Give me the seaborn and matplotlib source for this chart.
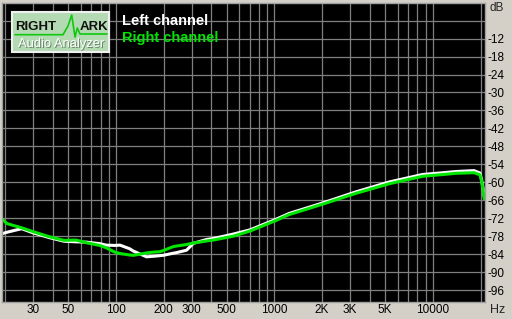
import numpy as np
import pandas as pd
import matplotlib
matplotlib.use("Agg")
import matplotlib.pyplot as plt
from matplotlib.ticker import FixedLocator, NullFormatter
from matplotlib.patches import Rectangle
import matplotlib.patheffects as pe
import seaborn as sns

# ---- data ----
freq = [19.1, 20.5, 25.4, 30, 38, 47, 56, 65, 79, 87, 98, 106, 122, 129, 156,
        175, 190, 199, 230, 241, 279, 308, 374, 412, 551, 701, 1020, 1240, 2020,
        3270, 5300, 8600, 12200, 14000, 18200, 19800, 20300, 20800, 21100]
left_db = [-77.2, -76.7, -75.5, -76.9, -78.5, -79.7, -79.9, -80.0, -80.5, -81.0,
           -81.1, -81.0, -82.2, -83.0, -84.9, -84.7, -84.5, -84.4, -83.7, -83.5,
           -82.7, -80.4, -79.1, -78.8, -77.3, -75.9, -72.4, -70.4, -66.9, -63.2,
           -59.9, -57.4, -56.7, -56.4, -56.1, -56.9, -59.1, -62.4, -64.7]
right_db = [-72.2, -73.8, -75.2, -76.5, -78.2, -79.4, -79.3, -80.2, -81.1, -81.9,
            -83.3, -83.8, -84.3, -84.4, -83.6, -83.3, -83.2, -82.8, -81.5, -81.3,
            -80.8, -80.3, -79.6, -79.3, -78.0, -76.3, -72.8, -70.8, -67.3, -63.7,
            -60.5, -58.0, -57.3, -57.0, -56.8, -57.5, -59.5, -63.0, -65.5]
series_names = ["Left channel", "Right channel"]
x_tick_values = [30, 50, 100, 200, 300, 500, 1000, 2000, 3000, 5000, 10000]
x_tick_labels = ["30", "50", "100", "200", "300", "500", "1000", "2K", "3K", "5K", "10000"]
y_tick_values = [-12, -18, -24, -30, -36, -42, -48, -54, -60, -66, -72, -78, -84, -90, -96]
y_tick_labels = [str(v) for v in y_tick_values]

df = pd.concat([
    pd.DataFrame({"freq": freq, "db": left_db, "channel": series_names[0]}),
    pd.DataFrame({"freq": freq, "db": right_db, "channel": series_names[1]}),
])

BG = "#d4d0c8"
GRID = "#808080"
WHITE = "#ffffff"
GREEN = "#00e600"
FONT = ["Liberation Sans", "DejaVu Sans"]

sns.set_style("dark")
plt.rcParams["font.family"] = FONT

W, H = 512, 319
fig = plt.figure(figsize=(W / 100, H / 100), dpi=100, facecolor=BG)
ax = fig.add_axes([2 / W, 1 - 302 / H, 483 / W, 299.3 / H])
ax.set_facecolor("black")

sns.lineplot(data=df, x="freq", y="db", hue="channel",
             palette={series_names[0]: WHITE, series_names[1]: GREEN},
             linewidth=2.2, ax=ax, legend=False, sort=False, estimator=None)

ax.set_xscale("log")
ax.set_xlim(19.1, 21340)
ax.set_ylim(-100, 0)

# grid
minor_x = [v * d for d in (10, 100, 1000) for v in range(2, 10)] + [20000]
ax.xaxis.set_major_locator(FixedLocator(x_tick_values))
ax.set_xticklabels(x_tick_labels)
ax.xaxis.set_minor_locator(FixedLocator(minor_x))
ax.xaxis.set_minor_formatter(NullFormatter())
ax.yaxis.set_major_locator(FixedLocator(y_tick_values))
ax.set_yticklabels(y_tick_labels)
ax.yaxis.set_minor_locator(FixedLocator([-6]))
ax.grid(True, which="both", color=GRID, linewidth=0.9)
ax.set_axisbelow(True)

ax.yaxis.tick_right()
ax.tick_params(axis="both", which="both", length=0, labelsize=8.5, colors="black")
ax.tick_params(axis="y", pad=2)
ax.tick_params(axis="x", pad=1.5)
ax.set_xlabel("")
ax.set_ylabel("")
for s in ax.spines.values():
    s.set_color("#a0a0a0")
    s.set_linewidth(1.0)

# unit labels
fig.text(489 / W, 1 - 8 / H, "dB", fontsize=8.5, ha="left", va="center")
fig.text(490 / W, 1 - 310 / H, "Hz", fontsize=9, ha="left", va="center")

# legend texts
fig.text(122 / W, 1 - 21 / H, series_names[0], color=WHITE, fontsize=10.5,
         fontweight="bold", ha="left", va="center")
fig.text(122 / W, 1 - 38 / H, series_names[1], color=GREEN, fontsize=10.5,
         fontweight="bold", ha="left", va="center")

# logo
tf = fig.transFigure
def P(x, y):
    return (x / W, 1 - y / H)

lx0, ly0, lx1, ly1 = 12, 12, 109, 52
fig.patches.append(Rectangle(P(lx0, ly1), (lx1 - lx0) / W, (ly1 - ly0) / H,
                             transform=tf, facecolor="#b4dab4", edgecolor="#f0f0f0",
                             linewidth=1.5, zorder=5))
zx = [15, 63, 68, 71.7, 75, 77.3, 80, 107]
zy = [34.7, 34.7, 26, 15, 37, 28, 34, 34]
fig.lines.append(plt.Line2D([P(x, 0)[0] for x in zx], [P(0, y)[1] for y in zy],
                            transform=tf, color="#10c810", linewidth=1.2, zorder=6))
fig.text(*P(15, 26.5), "RIGHT", fontsize=9.5, fontweight="bold", color="#101010",
         ha="left", va="center", zorder=7)
fig.text(*P(108, 26.5), "ARK", fontsize=9.5, fontweight="bold", color="#101010",
         ha="right", va="center", zorder=7)
fig.text(*P(61, 44), "Audio Analyzer", fontsize=9.3, color="white",
         ha="center", va="center", zorder=7,
         path_effects=[pe.SimplePatchShadow(offset=(0.7, -0.7), shadow_rgbFace="#607860", alpha=0.9),
                       pe.Normal()])

fig.savefig("out.png", dpi=100, facecolor=BG)
